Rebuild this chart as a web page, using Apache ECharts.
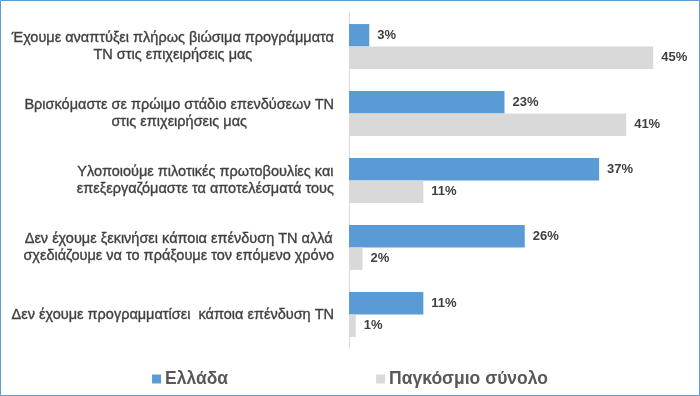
<!DOCTYPE html>
<html><head><meta charset="utf-8">
<script src="https://cdn.jsdelivr.net/npm/echarts@6/dist/echarts.min.js"></script>
<style>html,body{margin:0;padding:0;background:#fff}#c{width:700px;height:396px}</style>
</head><body><div id="c"></div>
<script>
var categories = [
  'Έχουμε αναπτύξει πλήρως βιώσιμα προγράμματα\nΤΝ στις επιχειρήσεις μας',
  'Βρισκόμαστε σε πρώιμο στάδιο επενδύσεων ΤΝ\nστις επιχειρήσεις μας',
  'Υλοποιούμε πιλοτικές πρωτοβουλίες και\nεπεξεργαζόμαστε τα αποτελέσματά τους',
  'Δεν έχουμε ξεκινήσει κάποια επένδυση ΤΝ αλλά\nσχεδιάζουμε να το πράξουμε τον επόμενο χρόνο',
  'Δεν έχουμε προγραμματίσει  κάποια επένδυση ΤΝ'
];
var seriesNames = ['Ελλάδα', 'Παγκόσμιο σύνολο'];
var greece = [3, 23, 37, 26, 11];
var world = [45, 41, 11, 2, 1];

var chart = echarts.init(document.getElementById('c'), null, {renderer: 'canvas'});
var FONT = '"Liberation Sans", Arial, sans-serif';
var labelCfg = {show: true, position: 'right', distance: 8, formatter: '{c}%', color: '#404040', fontWeight: 'bold', fontSize: 13, fontFamily: FONT};
var catStyle = {align: 'center', color: '#404040', fontSize: 14.5, fontFamily: FONT, lineHeight: 17, textBorderColor: '#404040', textBorderWidth: 0.35};
chart.setOption({
  animation: false,
  graphic: [{type: 'rect', shape: {x: 0.5, y: 0.5, width: 699, height: 395}, style: {fill: 'none', stroke: '#5B9BD5', lineWidth: 1}, silent: true}],
  grid: {left: 349, right: 13, top: 13, bottom: 48, containLabel: false},
  legend: {
    data: seriesNames, top: 365, left: 'center', itemGap: 148, itemWidth: 9, itemHeight: 9, icon: 'rect',
    textStyle: {color: '#595959', fontSize: 17.5, fontWeight: 'bold', fontFamily: FONT, padding: [0, 0, 0, -1]}
  },
  xAxis: {type: 'value', min: 0, max: 50, show: false},
  yAxis: {
    type: 'category', data: categories, inverse: true,
    axisLine: {show: true, lineStyle: {color: '#D9D9D9', width: 1}},
    axisTick: {show: false},
    axisLabel: {
      margin: 15, align: 'right', color: '#404040', fontSize: 14.5, fontFamily: FONT, lineHeight: 17,
      formatter: function (v) { return v.split('\n').map(function (l) { return '{c|' + l + '}'; }).join('\n'); },
      rich: {c: catStyle}
    }
  },
  series: [
    {name: seriesNames[0], type: 'bar', data: greece, barGap: '0%', barCategoryGap: '33%', itemStyle: {color: '#5B9BD5'}, label: labelCfg},
    {name: seriesNames[1], type: 'bar', data: world, itemStyle: {color: '#D9D9D9'}, label: labelCfg}
  ]
});
</script></body></html>
